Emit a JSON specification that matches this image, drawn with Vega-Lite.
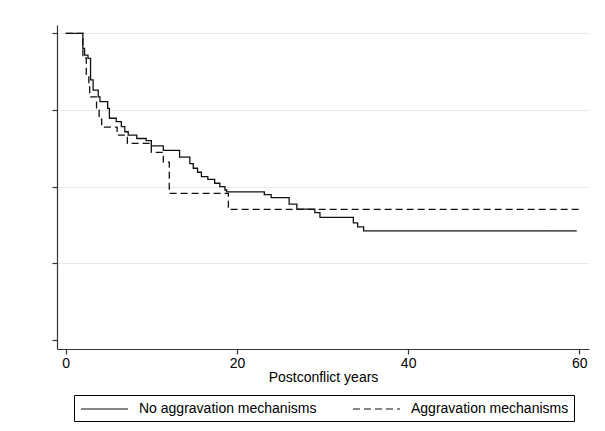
{
  "$schema": "https://vega.github.io/schema/vega-lite/v6.json",
  "width": 532,
  "height": 324,
  "autosize": {"type": "none"},
  "padding": {"left": 57, "top": 25, "right": 16, "bottom": 82},
  "background": "white",
  "config": {
    "view": {"stroke": null},
    "font": "Liberation Sans",
    "axis": {"labelFont": "Liberation Sans", "titleFont": "Liberation Sans"}
  },
  "data": {
    "values": [
      {"years": 0, "survival": 1.0, "group": "No aggravation mechanisms"},
      {"years": 2.0, "survival": 0.951, "group": "No aggravation mechanisms"},
      {"years": 2.2, "survival": 0.929, "group": "No aggravation mechanisms"},
      {"years": 2.6, "survival": 0.918, "group": "No aggravation mechanisms"},
      {"years": 2.9, "survival": 0.848, "group": "No aggravation mechanisms"},
      {"years": 3.2, "survival": 0.815, "group": "No aggravation mechanisms"},
      {"years": 3.8, "survival": 0.793, "group": "No aggravation mechanisms"},
      {"years": 4.0, "survival": 0.777, "group": "No aggravation mechanisms"},
      {"years": 4.9, "survival": 0.755, "group": "No aggravation mechanisms"},
      {"years": 5.1, "survival": 0.723, "group": "No aggravation mechanisms"},
      {"years": 5.9, "survival": 0.712, "group": "No aggravation mechanisms"},
      {"years": 6.5, "survival": 0.696, "group": "No aggravation mechanisms"},
      {"years": 6.9, "survival": 0.679, "group": "No aggravation mechanisms"},
      {"years": 7.3, "survival": 0.668, "group": "No aggravation mechanisms"},
      {"years": 8.3, "survival": 0.657, "group": "No aggravation mechanisms"},
      {"years": 9.4, "survival": 0.650, "group": "No aggravation mechanisms"},
      {"years": 10.0, "survival": 0.633, "group": "No aggravation mechanisms"},
      {"years": 11.4, "survival": 0.618, "group": "No aggravation mechanisms"},
      {"years": 13.3, "survival": 0.596, "group": "No aggravation mechanisms"},
      {"years": 14.5, "survival": 0.575, "group": "No aggravation mechanisms"},
      {"years": 14.9, "survival": 0.560, "group": "No aggravation mechanisms"},
      {"years": 15.4, "survival": 0.547, "group": "No aggravation mechanisms"},
      {"years": 15.85, "survival": 0.533, "group": "No aggravation mechanisms"},
      {"years": 16.6, "survival": 0.524, "group": "No aggravation mechanisms"},
      {"years": 17.4, "survival": 0.511, "group": "No aggravation mechanisms"},
      {"years": 18.0, "survival": 0.500, "group": "No aggravation mechanisms"},
      {"years": 18.6, "survival": 0.489, "group": "No aggravation mechanisms"},
      {"years": 18.8, "survival": 0.483, "group": "No aggravation mechanisms"},
      {"years": 23.2, "survival": 0.474, "group": "No aggravation mechanisms"},
      {"years": 24.0, "survival": 0.464, "group": "No aggravation mechanisms"},
      {"years": 26.1, "survival": 0.443, "group": "No aggravation mechanisms"},
      {"years": 27.0, "survival": 0.427, "group": "No aggravation mechanisms"},
      {"years": 29.1, "survival": 0.415, "group": "No aggravation mechanisms"},
      {"years": 29.7, "survival": 0.400, "group": "No aggravation mechanisms"},
      {"years": 33.6, "survival": 0.382, "group": "No aggravation mechanisms"},
      {"years": 34.1, "survival": 0.369, "group": "No aggravation mechanisms"},
      {"years": 34.8, "survival": 0.356, "group": "No aggravation mechanisms"},
      {"years": 59.7, "survival": 0.356, "group": "No aggravation mechanisms"},
      {"years": 0, "survival": 1.0, "group": "Aggravation mechanisms"},
      {"years": 2.0, "survival": 0.92, "group": "Aggravation mechanisms"},
      {"years": 2.4, "survival": 0.866, "group": "Aggravation mechanisms"},
      {"years": 2.7, "survival": 0.83, "group": "Aggravation mechanisms"},
      {"years": 2.8, "survival": 0.793, "group": "Aggravation mechanisms"},
      {"years": 3.6, "survival": 0.75, "group": "Aggravation mechanisms"},
      {"years": 3.9, "survival": 0.72, "group": "Aggravation mechanisms"},
      {"years": 4.2, "survival": 0.694, "group": "Aggravation mechanisms"},
      {"years": 6.0, "survival": 0.668, "group": "Aggravation mechanisms"},
      {"years": 7.2, "survival": 0.641, "group": "Aggravation mechanisms"},
      {"years": 10.0, "survival": 0.612, "group": "Aggravation mechanisms"},
      {"years": 11.4, "survival": 0.58, "group": "Aggravation mechanisms"},
      {"years": 12.1, "survival": 0.478, "group": "Aggravation mechanisms"},
      {"years": 19.0, "survival": 0.426, "group": "Aggravation mechanisms"},
      {"years": 60.2, "survival": 0.426, "group": "Aggravation mechanisms"}
    ]
  },
  "mark": {"type": "line", "interpolate": "step-after", "color": "#111111", "strokeWidth": 1.3},
  "encoding": {
    "x": {
      "field": "years", "type": "quantitative",
      "scale": {"domain": [-1.02, 61.13], "nice": false, "zero": false},
      "axis": {
        "values": [0, 20, 40, 60], "title": "Postconflict years",
        "grid": false, "tickSize": 5, "tickColor": "#333333", "domainColor": "#333333",
        "tickWidth": 1.2, "domainWidth": 1.2,
        "labelFontSize": 14, "labelColor": "#000000", "labelPadding": 2,
        "titleFontSize": 14, "titleFontWeight": "normal", "titleColor": "#000000", "titlePadding": 0
      }
    },
    "y": {
      "field": "survival", "type": "quantitative",
      "scale": {"domain": [-0.0293, 1.027], "nice": false, "zero": false},
      "axis": {
        "values": [0, 0.25, 0.5, 0.75, 1], "title": null, "labels": false,
        "grid": true,
        "gridColor": {"condition": {"test": "datum.value == 0", "value": "transparent"}, "value": "#e8e8e8"},
        "gridWidth": 1.2,
        "tickSize": 5, "tickColor": "#333333", "domainColor": "#333333", "tickWidth": 1.2, "domainWidth": 1.2
      }
    },
    "strokeDash": {
      "field": "group", "type": "nominal",
      "scale": {"domain": ["No aggravation mechanisms", "Aggravation mechanisms"], "range": [[1, 0], [7, 4]]},
      "legend": {
        "title": null, "orient": "none", "legendX": 17, "legendY": 370,
        "direction": "horizontal", "columns": 2,
        "strokeColor": "#000000", "fillColor": "#ffffff", "padding": 5, "cornerRadius": 0,
        "symbolType": "M-0.875,0H5", "symbolSize": 256, "symbolStrokeColor": "#111111",
        "symbolStrokeWidth": 1.2, "symbolFillColor": "transparent",
        "labelOffset": 42, "columnPadding": 33,
        "labelFontSize": 14, "labelColor": "#000000", "labelFont": "Liberation Sans", "labelLimit": 400
      }
    }
  }
}
